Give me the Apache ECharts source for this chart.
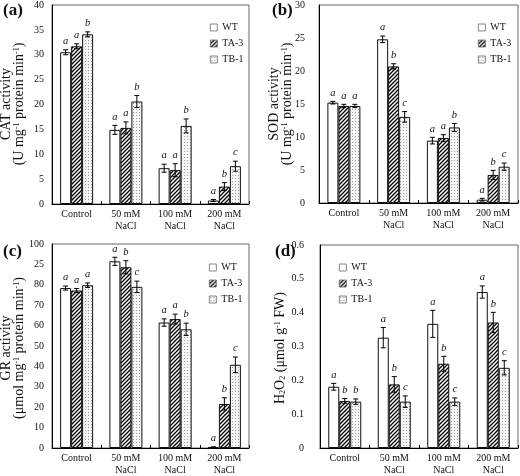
<!DOCTYPE html>
<html><head><meta charset="utf-8">
<script src="https://cdn.jsdelivr.net/npm/echarts/dist/echarts.min.js"></script>
<style>html,body{margin:0;padding:0;background:#fff}#c{width:520px;height:476px}</style>
</head><body><div id="c"></div>
<script>
const categories = ['Control', '50 mM\nNaCl', '100 mM\nNaCl', '200 mM\nNaCl'];
const seriesNames = ['WT', 'TA-3', 'TB-1'];

// (a) CAT activity
const catWT = [30.5, 14.9, 7.2, 0.7];
const catTA3 = [31.7, 15.3, 6.8, 3.5];
const catTB1 = [34.1, 20.6, 15.7, 7.6];
const catWTErr = [0.5, 0.9, 0.8, 0.2];
const catTA3Err = [0.5, 1.2, 1.3, 0.8];
const catTB1Err = [0.5, 1.2, 1.4, 1.0];
const catWTLet = ['a', 'a', 'a', 'a'];
const catTA3Let = ['a', 'a', 'a', 'b'];
const catTB1Let = ['b', 'b', 'b', 'c'];
const catTicks = ['0', '5', '10', '15', '20', '25', '30', '35', '40'];

// (b) SOD activity
const sodWT = [15.2, 24.8, 9.45, 0.5];
const sodTA3 = [14.7, 20.7, 9.85, 4.25];
const sodTB1 = [14.7, 13.05, 11.45, 5.5];
const sodWTErr = [0.2, 0.5, 0.5, 0.2];
const sodTA3Err = [0.25, 0.4, 0.5, 0.7];
const sodTB1Err = [0.25, 0.8, 0.6, 0.55];
const sodWTLet = ['a', 'a', 'a', 'a'];
const sodTA3Let = ['a', 'b', 'a', 'b'];
const sodTB1Let = ['a', 'c', 'b', 'c'];
const sodTicks = ['0', '5', '10', '15', '20', '25', '30'];

// (c) GR activity
const grWT = [78.4, 91.5, 61.5, 0.4];
const grTA3 = [77.2, 88.6, 63.2, 21.6];
const grTB1 = [79.8, 79.0, 58.2, 40.8];
const grWTErr = [1.0, 2.0, 1.8, 0.2];
const grTA3Err = [1.0, 3.2, 2.4, 3.0];
const grTB1Err = [1.1, 2.8, 3.0, 3.8];
const grWTLet = ['a', 'a', 'a', 'a'];
const grTA3Let = ['a', 'b', 'a', 'b'];
const grTB1Let = ['a', 'c', 'b', 'c'];
const grTicks = ['0', '10', '20', '30', '40', '50', '60', '70', '80', '25', '100'];

// (d) H2O2
const hWT = [0.181, 0.326, 0.367, 0.461];
const hTA3 = [0.139, 0.188, 0.249, 0.371];
const hTB1 = [0.137, 0.137, 0.137, 0.237];
const hWTErr = [0.010, 0.030, 0.040, 0.018];
const hTA3Err = [0.007, 0.023, 0.022, 0.030];
const hTB1Err = [0.008, 0.017, 0.011, 0.021];
const hWTLet = ['a', 'a', 'a', 'a'];
const hTA3Let = ['b', 'b', 'b', 'b'];
const hTB1Let = ['b', 'c', 'c', 'c'];
const hTicks = ['0', '0.1', '0.2', '0.3', '0.4', '0.5', '0.6'];

const SERIF = 'Liberation Serif';
const BW = 11;

function hatch() {
  const c = document.createElement('canvas'); c.width = 4; c.height = 4;
  const x = c.getContext('2d');
  x.fillStyle = '#fff'; x.fillRect(0, 0, 4, 4);
  x.strokeStyle = '#000'; x.lineWidth = 1.3; x.beginPath();
  x.moveTo(0, 4); x.lineTo(4, 0);
  x.moveTo(-1, 1); x.lineTo(1, -1);
  x.moveTo(3, 5); x.lineTo(5, 3);
  x.stroke();
  return { image: c, repeat: 'repeat' };
}
function dots() {
  const c = document.createElement('canvas'); c.width = 3; c.height = 3;
  const x = c.getContext('2d');
  x.fillStyle = '#f6f6f6'; x.fillRect(0, 0, 3, 3);
  x.fillStyle = '#9a9a9a'; x.fillRect(1, 1, 1, 1);
  return { image: c, repeat: 'repeat' };
}
const fills = ['#ffffff', hatch(), dots()];

const panels = [
  { grid: { left: 52, top: 4, width: 197, height: 200 }, max: 40, interval: 5, ticks: catTicks, lm: 8,
    vals: [catWT, catTA3, catTB1], errs: [catWTErr, catTA3Err, catTB1Err], lets: [catWTLet, catTA3Let, catTB1Let],
    legend: { left: 205, top: 17 }, label: '(a)', labelPos: [3, 2] },
  { grid: { left: 319, top: 4, width: 199, height: 199 }, max: 30, interval: 5, ticks: sodTicks, lm: 14,
    vals: [sodWT, sodTA3, sodTB1], errs: [sodWTErr, sodTA3Err, sodTB1Err], lets: [sodWTLet, sodTA3Let, sodTB1Let],
    legend: { left: 473, top: 17 }, label: '(b)', labelPos: [272, 2] },
  { grid: { left: 52, top: 244, width: 197, height: 207 }, max: 100, interval: 10, ticks: grTicks, lm: 8,
    vals: [grWT, grTA3, grTB1], errs: [grWTErr, grTA3Err, grTB1Err], lets: [grWTLet, grTA3Let, grTB1Let],
    legend: { left: 204, top: 257 }, label: '(c)', labelPos: [3, 243] },
  { grid: { left: 320, top: 245, width: 198, height: 207 }, max: 0.6, interval: 0.1, ticks: hTicks, lm: 16,
    vals: [hWT, hTA3, hTB1], errs: [hWTErr, hTA3Err, hTB1Err], lets: [hWTLet, hTA3Let, hTB1Let],
    legend: { left: 334, top: 257 }, label: '(d)', labelPos: [275, 243] }
];

function errRender(s, lets) {
  return function (params, api) {
    const i = api.value(0), v = api.value(1), e = api.value(2);
    const c = api.coord([i, v]);
    const x = c[0] + (s - 1) * BW;
    const yT = api.coord([i, v + e])[1];
    const yB = api.coord([i, Math.max(v - e, 0)])[1];
    const st = { stroke: '#000', lineWidth: 1 };
    return {
      type: 'group',
      children: [
        { type: 'line', shape: { x1: x, y1: yT, x2: x, y2: yB }, style: st },
        { type: 'line', shape: { x1: x - 2.5, y1: yT, x2: x + 2.5, y2: yT }, style: st },
        { type: 'line', shape: { x1: x - 2.5, y1: yB, x2: x + 2.5, y2: yB }, style: st },
        { type: 'text', x: x, y: yT - 3, style: { text: lets[params.dataIndex], fontFamily: SERIF, fontStyle: 'italic', fontSize: 10.5, fill: '#111', align: 'center', verticalAlign: 'bottom' } }
      ]
    };
  };
}

const grid = [], xAxis = [], yAxis = [], series = [], legend = [], title = [];
panels.forEach((p, k) => {
  grid.push(Object.assign({ show: true, borderColor: '#666', borderWidth: 1 }, p.grid));
  xAxis.push({
    type: 'category', gridIndex: k, data: categories,
    axisLine: { lineStyle: { color: '#000', width: 1 } },
    axisTick: { show: true, inside: true, length: 3, lineStyle: { color: '#000' } },
    axisLabel: { fontFamily: SERIF, fontSize: 10, color: '#111', margin: 4, lineHeight: 12, interval: 0 }
  });
  yAxis.push({
    type: 'value', gridIndex: k, min: 0, max: p.max, interval: p.interval,
    axisLine: { show: true, lineStyle: { color: '#000', width: 1 } },
    axisTick: { show: false },
    splitLine: { show: false },
    axisLabel: { fontFamily: SERIF, fontSize: 10, color: '#111', margin: p.lm,
      formatter: (v) => p.ticks[Math.round(v / p.interval)] }
  });
  for (let s = 0; s < 3; s++) {
    series.push({
      name: seriesNames[s], type: 'bar', xAxisIndex: k, yAxisIndex: k,
      data: p.vals[s], barWidth: BW, barGap: '0%',
      itemStyle: { color: fills[s], borderColor: '#111', borderWidth: 1 }
    });
  }
  for (let s = 0; s < 3; s++) {
    series.push({
      name: 'err' + k + s, type: 'custom', xAxisIndex: k, yAxisIndex: k, z: 5, silent: true,
      data: p.vals[s].map((v, i) => [i, v, p.errs[s][i]]),
      renderItem: errRender(s, p.lets[s])
    });
  }
  legend.push({
    data: seriesNames, orient: 'vertical', left: p.legend.left, top: p.legend.top,
    itemWidth: 7, itemHeight: 7, itemGap: 5, icon: 'rect',
    itemStyle: { borderWidth: 0.7, borderColor: '#555' },
    textStyle: { fontFamily: SERIF, fontSize: 10, color: '#111', lineHeight: 11 }
  });
  title.push({ text: p.label, left: p.labelPos[0], top: p.labelPos[1], padding: 0,
    textStyle: { fontFamily: SERIF, fontWeight: 'bold', fontSize: 17, color: '#111' } });
});

const rich = {
  n: { fontFamily: SERIF, fontSize: 14, lineHeight: 13, fill: '#111' },
  s: { fontFamily: SERIF, fontSize: 8, lineHeight: 13, verticalAlign: 'top', fill: '#111' },
  b: { fontFamily: SERIF, fontSize: 8, lineHeight: 13, verticalAlign: 'bottom', fill: '#111' }
};
function yTitle(x, y, text) {
  return { type: 'text', x: x, y: y, rotation: Math.PI / 2, silent: true,
    style: { text: text, rich: rich, align: 'center', verticalAlign: 'middle', fill: '#111' } };
}
const graphic = [
  yTitle(13, 104, '{n|CAT activity}\n{n|(U mg}{s|-1}{n| protein min}{s|-1}{n|)}'),
  yTitle(281, 104, '{n|SOD activity}\n{n|(U mg}{s|-1}{n| protein min}{s|-1}{n|)}'),
  yTitle(13, 348, '{n|GR activity}\n{n|(μmol mg}{s|-1}{n| protein min}{s|-1}{n|)}'),
  yTitle(280, 348, '{n|H}{b|2}{n|O}{b|2}{n| (μmol g}{s|-1}{n| FW)}')
];

const chart = echarts.init(document.getElementById('c'), null, { renderer: 'canvas' });
chart.setOption({ animation: false, backgroundColor: '#fff', title, grid, xAxis, yAxis, series, legend, graphic });
</script></body></html>
